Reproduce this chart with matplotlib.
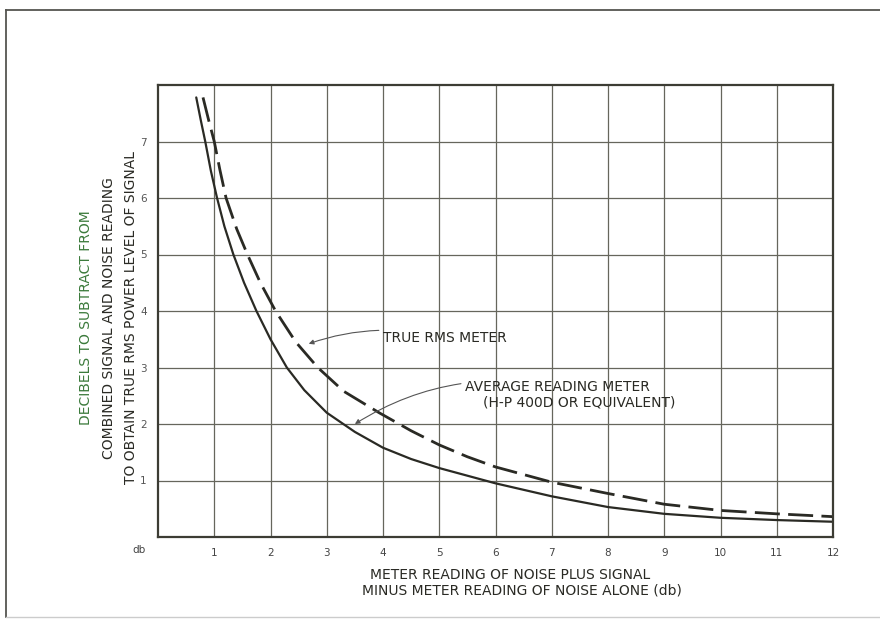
import matplotlib
matplotlib.use("Agg")
import matplotlib.pyplot as plt
from matplotlib.lines import Line2D

plt.rcParams['font.family'] = ['DejaVu Sans']

# readings taken off the chart
avg_x = [0.68, 0.76, 0.84, 0.94, 1.05, 1.18, 1.34, 1.53, 1.75, 2.0, 2.29, 2.6, 3.0,
         3.5, 4.0, 4.5, 5.0, 6.0, 7.0, 8.0, 9.0, 10.0, 11.0, 12.0]
avg_y = [7.78, 7.38, 7.0, 6.48, 6.0, 5.5, 5.0, 4.5, 4.0, 3.5, 3.0, 2.6, 2.2,
         1.86, 1.58, 1.38, 1.22, 0.95, 0.72, 0.53, 0.41, 0.34, 0.30, 0.27]

rms_x = [0.80, 0.9, 1.0, 1.1, 1.21, 1.4, 1.59, 1.82, 2.09, 2.45, 2.84, 3.3, 3.93,
         4.5, 5.0, 5.5, 6.0, 7.0, 8.0, 9.0, 10.0, 11.0, 12.0]
rms_y = [7.78, 7.38, 7.0, 6.5, 6.0, 5.45, 5.0, 4.5, 4.0, 3.45, 3.0, 2.58, 2.2,
         1.88, 1.63, 1.42, 1.24, 0.97, 0.77, 0.58, 0.47, 0.41, 0.36]

xticks = list(range(1, 13))
yticks = list(range(1, 8))

GRID = "#66665c"
INK = "#2a2a24"
GREEN = "#3b7a3b"
FS = 10

fig = plt.figure(figsize=(8.8, 6.33), dpi=100)
ax = fig.add_axes([158 / 880, 1 - 537 / 633, (833 - 158) / 880, (537 - 85) / 633])

ax.set_xlim(0, 12)
ax.set_ylim(0, 8)
ax.set_xticks(xticks)
ax.set_yticks(yticks)
ax.set_xticklabels([str(t) for t in xticks], fontsize=7.5, color="#444444")
ax.set_yticklabels([str(t) for t in yticks], fontsize=7.5, color="#555555")
ax.tick_params(length=0, pad=8)
ax.grid(True, color=GRID, lw=0.9)
ax.set_axisbelow(True)
for s in ax.spines.values():
    s.set_color("#3c3c34")
    s.set_linewidth(1.6)

ax.plot(avg_x, avg_y, color=INK, lw=1.6, solid_capstyle='round')
ax.plot(rms_x, rms_y, color=INK, lw=2.0, dashes=(9, 3))

ax.text(-0.018, -0.028, "db", transform=ax.transAxes, ha="right", va="center",
        fontsize=7.5, color="#444444")

arrow = dict(arrowstyle="-|>", color="#555555", lw=0.8, mutation_scale=7,
             shrinkA=1, shrinkB=0)
ax.annotate("TRUE RMS METER", xy=(2.68, 3.42), xytext=(4.0, 3.53),
            ha="left", va="center", fontsize=FS, color=INK,
            arrowprops=dict(arrow, connectionstyle="arc3,rad=0.15"))
ax.annotate("AVERAGE READING METER", xy=(3.5, 2.0), xytext=(5.46, 2.66),
            ha="left", va="center", fontsize=FS, color=INK,
            arrowprops=dict(arrow, connectionstyle="arc3,rad=0.2"))
ax.text(5.78, 2.38, "(H-P 400D OR EQUIVALENT)", ha="left", va="center",
        fontsize=FS, color=INK)

# axis titles
fig.text(510 / 880, 1 - 575 / 633, "METER READING OF NOISE PLUS SIGNAL",
         ha="center", va="center", fontsize=FS, color=INK)
fig.text(522 / 880, 1 - 591 / 633, "MINUS METER READING OF NOISE ALONE (db)",
         ha="center", va="center", fontsize=FS, color=INK)

ycen = 1 - 318 / 633
fig.text(86 / 880, ycen, "DECIBELS TO SUBTRACT FROM", rotation=90,
         ha="center", va="center", fontsize=FS, color=GREEN)
fig.text(109 / 880, ycen, "COMBINED SIGNAL AND NOISE READING", rotation=90,
         ha="center", va="center", fontsize=FS, color=INK)
fig.text(131 / 880, ycen, "TO OBTAIN TRUE RMS POWER LEVEL OF SIGNAL", rotation=90,
         ha="center", va="center", fontsize=FS, color=INK)

# page frame
fig.add_artist(Line2D([6 / 880, 6 / 880], [1 - 617 / 633, 1 - 10 / 633],
                      transform=fig.transFigure, color="#555550", lw=1.3))
fig.add_artist(Line2D([6 / 880, 1.0], [1 - 10 / 633, 1 - 10 / 633],
                      transform=fig.transFigure, color="#555550", lw=1.3))
fig.add_artist(Line2D([6 / 880, 1.0], [1 - 617 / 633, 1 - 617 / 633],
                      transform=fig.transFigure, color="#cccccc", lw=1.0))

fig.savefig("out.png", dpi=100)
